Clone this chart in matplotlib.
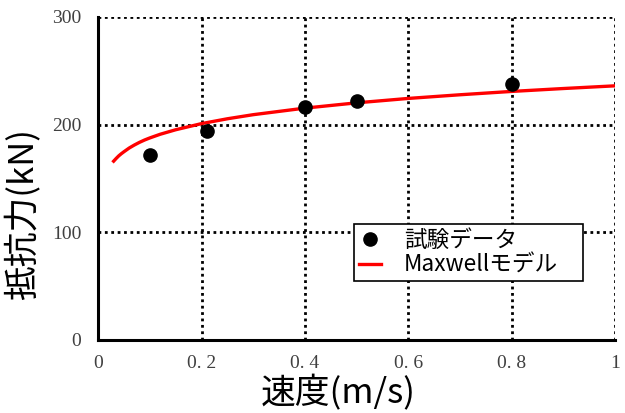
import matplotlib
matplotlib.use("Agg")
import matplotlib.pyplot as plt

# -------------------------
# DATA
# -------------------------
test_speed = [0.10, 0.21, 0.40, 0.50, 0.80]
test_force = [172, 194, 216, 222, 238]

model_speed = [0.03, 0.035, 0.04, 0.045, 0.05, 0.06, 0.07, 0.08, 0.09, 0.10,
               0.12, 0.15, 0.20, 0.25, 0.30, 0.40, 0.50, 0.60, 0.70, 0.80,
               0.90, 1.00]
model_force = [166, 168.6, 171, 173, 174.8, 178.2, 181, 183.5, 185.7, 187.6,
               191, 195.2, 200.9, 205.4, 209.2, 215.3, 220.2, 224.3, 227.7, 230.8,
               233.5, 236]

x_ticks = [0, 0.2, 0.4, 0.6, 0.8, 1.0]
x_tick_labels = ["0", "0. 2", "0. 4", "0. 6", "0. 8", "1"]
y_ticks = [0, 100, 200, 300]
y_tick_labels = ["0", "100", "200", "300"]

jp_font = ["Noto Sans CJK JP", "DejaVu Sans"]
tick_font = "Liberation Serif"

# -------------------------
# PLOT
# -------------------------
fig = plt.figure(figsize=(6.25, 4.13), dpi=100)
ax = fig.add_axes([0.157, 0.177, 0.827, 0.782])

ax.plot(test_speed, test_force, "o", color="black", markersize=9.5,
        label="試験データ", zorder=4)
ax.plot(model_speed, model_force, "-", color="red", linewidth=2.4,
        label="Maxwellモデル", zorder=3)

ax.set_xlim(0, 1)
ax.set_ylim(0, 300)
ax.set_xticks(x_ticks)
ax.set_xticklabels(x_tick_labels, fontname=tick_font, fontsize=14, color="#404040")
ax.set_yticks(y_ticks)
ax.set_yticklabels(y_tick_labels, fontname=tick_font, fontsize=14, color="#404040")
ax.tick_params(length=0)
ax.tick_params(axis="y", pad=12)
ax.tick_params(axis="x", pad=11)

ax.grid(True, color="black", linestyle=(0, (1, 1.3)), linewidth=2)
for side in ["top", "right"]:
    ax.spines[side].set_visible(False)
for side in ["left", "bottom"]:
    ax.spines[side].set_linewidth(2.2)
    ax.spines[side].set_zorder(5)

# axis titles sit a bit off-centre in the original
fig.text(338 / 625, 1 - 393 / 413, "速度(m/s)", family=jp_font, fontsize=25,
         ha="center", va="center")
fig.text(23 / 625, 1 - 214 / 413, "抵抗力(kN)", family=jp_font, fontsize=25,
         ha="center", va="center", rotation=90)

leg = ax.legend(loc="upper left", bbox_to_anchor=(0.495, 0.0, 0.443, 0.359),
                mode="expand", borderaxespad=0,
                prop={"family": jp_font, "size": 16.3}, frameon=True, fancybox=False,
                edgecolor="black", framealpha=1, handlelength=1.0, handletextpad=1.0,
                borderpad=0.2, labelspacing=0.1)
leg.get_frame().set_linewidth(1.2)

fig.savefig("out.png", dpi=100)
plt.close(fig)
